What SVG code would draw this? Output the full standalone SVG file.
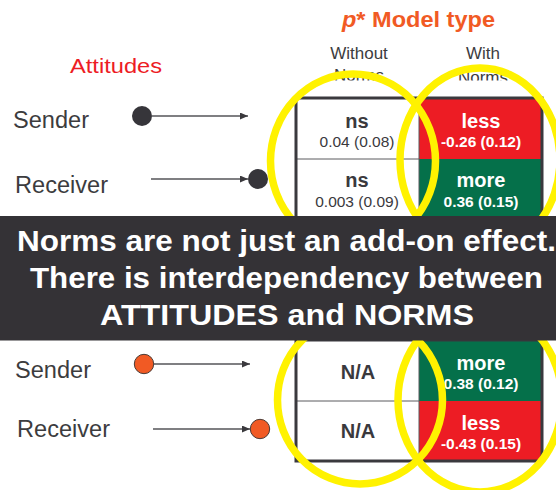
<svg xmlns="http://www.w3.org/2000/svg" width="556" height="490" viewBox="0 0 556 490">
<defs>
<style>
text{font-family:"Liberation Sans",Arial,sans-serif}
.lab{font-size:23px;fill:#3c3c3e}
.hdr{font-size:17px;fill:#3c3c3e;text-anchor:middle}
.big{font-size:20px;font-weight:bold;text-anchor:middle}
.num{font-size:15.5px;text-anchor:middle}
.dk{fill:#3a393d}
.wt{fill:#ffffff}
.nb{font-weight:bold}
.cellw{fill:#ffffff}
.red{fill:#ED1C24}
.grn{fill:#05704A}
.frame{fill:none;stroke:#3a393e;stroke-width:3}
.div{stroke:#5a5a5e;stroke-width:1}
.ring{fill:none;stroke:#FFF200;stroke-width:7.5}
.conn{stroke:#555559;stroke-width:1.3;fill:none;marker-end:url(#ah)}
.dotd{fill:#36353a}
.doto{fill:#F15A24;stroke:#4a3a35;stroke-width:1}
.ban{font-size:29.5px;font-weight:bold;fill:#ffffff}
</style>
<marker id="ah" markerUnits="userSpaceOnUse" markerWidth="9" markerHeight="7" refX="8" refY="3.5" orient="auto">
<path d="M0,0 L8,3.5 L0,7 z" fill="#3a393d"/>
</marker>
</defs>
<rect width="556" height="490" fill="#ffffff"/>

<g id="title">
<text x="342" y="27" font-size="22.5" font-weight="bold" fill="#F15A24" textLength="153" lengthAdjust="spacingAndGlyphs"><tspan font-style="italic">p</tspan>* Model type</text>
</g>
<g id="attitudes-label">
<text x="70" y="73" font-size="21" fill="#ED1C24" textLength="92" lengthAdjust="spacingAndGlyphs">Attitudes</text>
</g>
<g id="col-headers">
<text class="hdr" x="359" y="59">Without</text>
<text class="hdr" x="359" y="81">Norms</text>
<text class="hdr" x="483" y="59">With</text>
<text class="hdr" x="483" y="83">Norms</text>
<rect x="296" y="80.5" width="250" height="17" fill="#ffffff"/>
</g>

<g id="row-labels">
<text class="lab" x="13" y="128" textLength="76" lengthAdjust="spacingAndGlyphs">Sender</text>
<text class="lab" x="15" y="193" textLength="93" lengthAdjust="spacingAndGlyphs">Receiver</text>
<text class="lab" x="15" y="378" textLength="76" lengthAdjust="spacingAndGlyphs">Sender</text>
<text class="lab" x="17" y="437" textLength="93" lengthAdjust="spacingAndGlyphs">Receiver</text>
</g>

<g id="connectors">
<line class="conn" x1="152" y1="116" x2="248" y2="116"/>
<line class="conn" x1="151" y1="179" x2="248" y2="179"/>
<line class="conn" x1="154" y1="364" x2="250" y2="364"/>
<line class="conn" x1="153" y1="429" x2="250" y2="429"/>
</g>

<g id="dot-sender-top"><circle class="dotd" cx="142" cy="116" r="10"/></g>
<g id="dot-receiver-top"><circle class="dotd" cx="258" cy="179" r="10"/></g>
<g id="dot-sender-bottom"><circle class="doto" cx="144" cy="364" r="9.7"/></g>
<g id="dot-receiver-bottom"><circle class="doto" cx="260" cy="429" r="9.7"/></g>

<g id="table-top">
<rect class="cellw" x="296" y="98" width="123" height="122"/>
<rect class="red" x="419" y="98" width="123" height="61"/>
<rect class="grn" x="419" y="159" width="123" height="61"/>
<line class="div" x1="296" y1="159" x2="419" y2="159"/>
<line class="div" x1="419" y1="98" x2="419" y2="220"/>
<rect class="frame" x="296" y="98" width="246" height="122"/>
<text class="big dk" x="357" y="128">ns</text>
<text class="num dk" x="357" y="147">0.04 (0.08)</text>
<text class="big wt" x="481" y="128">less</text>
<text class="num wt nb" x="481" y="147">-0.26 (0.12)</text>
<text class="big dk" x="357" y="187">ns</text>
<text class="num dk" x="357" y="207">0.003 (0.09)</text>
<text class="big wt" x="481" y="187">more</text>
<text class="num wt nb" x="481" y="207">0.36 (0.15)</text>
</g>

<g id="table-bottom">
<rect class="cellw" x="296" y="340" width="123" height="121"/>
<rect class="grn" x="419" y="340" width="123" height="61"/>
<rect class="red" x="419" y="401" width="123" height="60"/>
<line class="div" x1="296" y1="401" x2="419" y2="401"/>
<line class="div" x1="419" y1="340" x2="419" y2="461"/>
<rect class="frame" x="296" y="340" width="246" height="121"/>
<text class="big dk" x="358" y="379">N/A</text>
<text class="big wt" x="481" y="370">more</text>
<text class="num wt nb" x="481" y="389">0.38 (0.12)</text>
<text class="big dk" x="358" y="438">N/A</text>
<text class="big wt" x="481" y="430">less</text>
<text class="num wt nb" x="481" y="449">-0.43 (0.15)</text>
</g>

<g id="highlights">
<ellipse class="ring" cx="353" cy="161" rx="82.5" ry="87"/>
<ellipse class="ring" cx="480" cy="160" rx="80" ry="92"/>
<ellipse class="ring" cx="360" cy="400" rx="82.5" ry="84"/>
<ellipse class="ring" cx="480" cy="400" rx="82" ry="92"/>
</g>

<g id="banner">
<rect x="0" y="216" width="556" height="124.5" fill="#343236"/>
<text class="ban" x="17" y="251" textLength="539" lengthAdjust="spacingAndGlyphs">Norms are not just an add-on effect.</text>
<text class="ban" x="30" y="288" textLength="513" lengthAdjust="spacingAndGlyphs">There is interdependency between</text>
<text class="ban" x="100" y="325" textLength="374" lengthAdjust="spacingAndGlyphs">ATTITUDES and NORMS</text>
</g>
</svg>
